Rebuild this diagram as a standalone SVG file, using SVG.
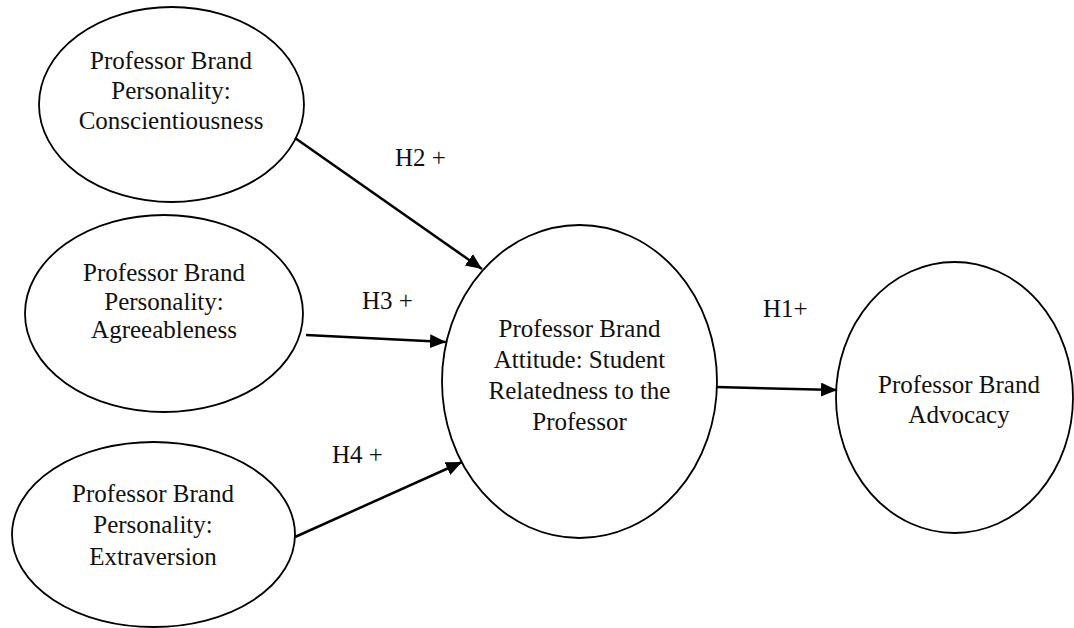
<svg xmlns="http://www.w3.org/2000/svg" width="1074" height="628" viewBox="0 0 1074 628">
<defs>
<style>
.node ellipse{fill:#fff;stroke:#000;stroke-width:1.8}
text{font-family:"Liberation Serif","Times New Roman",serif;font-size:25px;fill:#111;text-anchor:middle}
.lbl{text-anchor:start}
.conn line{stroke:#000;stroke-width:2.5}
</style>
<marker id="arr" markerUnits="userSpaceOnUse" markerWidth="18" markerHeight="16" refX="16" refY="7" orient="auto">
<path d="M0,0 L16,7 L0,14 z" fill="#000"/>
</marker>
</defs>
<rect width="1074" height="628" fill="#fff"/>
<g id="n-conscientiousness" class="node">
<ellipse cx="171.5" cy="104.5" rx="132.5" ry="97.5"/>
<text x="171" y="69">Professor Brand</text>
<text x="171" y="99">Personality:</text>
<text x="171" y="129">Conscientiousness</text>
</g>
<g id="n-agreeableness" class="node">
<ellipse cx="164" cy="313.5" rx="139" ry="98.5"/>
<text x="164" y="281">Professor Brand</text>
<text x="164" y="310">Personality:</text>
<text x="164" y="338">Agreeableness</text>
</g>
<g id="n-extraversion" class="node">
<ellipse cx="153.5" cy="534.5" rx="141.5" ry="92.5"/>
<text x="153" y="502">Professor Brand</text>
<text x="153" y="533">Personality:</text>
<text x="153" y="565">Extraversion</text>
</g>
<g id="n-attitude" class="node">
<ellipse cx="579.5" cy="381.5" rx="137.5" ry="156.5"/>
<text x="579.5" y="337">Professor Brand</text>
<text x="579.5" y="368">Attitude: Student</text>
<text x="579.5" y="399">Relatedness to the</text>
<text x="579.5" y="430">Professor</text>
</g>
<g id="n-advocacy" class="node">
<ellipse cx="954.5" cy="397.5" rx="118.5" ry="135.5"/>
<text x="959" y="393">Professor Brand</text>
<text x="959" y="423">Advocacy</text>
</g>
<g id="connectors" class="conn">
<line x1="295" y1="138" x2="482" y2="269" marker-end="url(#arr)"/>
<line x1="306" y1="335" x2="446" y2="342" marker-end="url(#arr)"/>
<line x1="295" y1="537" x2="462" y2="462" marker-end="url(#arr)"/>
<line x1="716" y1="387" x2="837" y2="390" marker-end="url(#arr)"/>
<text class="lbl" x="395" y="166">H2 +</text>
<text class="lbl" x="362" y="309">H3 +</text>
<text class="lbl" x="332" y="463">H4 +</text>
<text class="lbl" x="763" y="317">H1+</text>
</g>
</svg>
